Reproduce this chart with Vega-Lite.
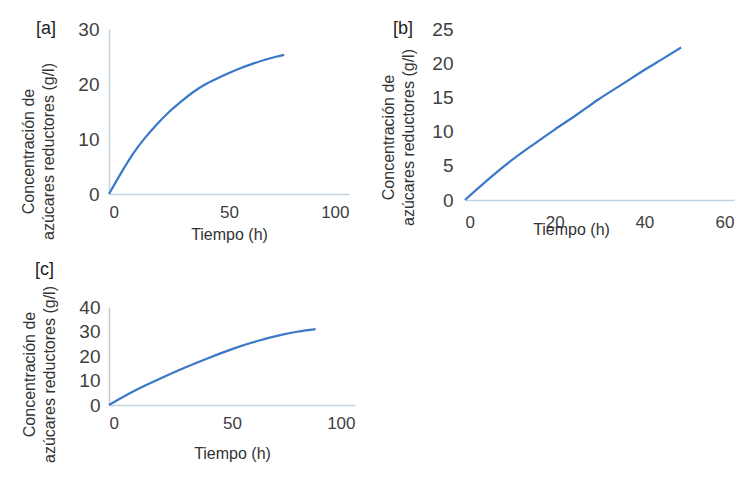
{
  "$schema": "https://vega.github.io/schema/vega-lite/v6.json",
  "background": "white",
  "padding": {"left": 20, "top": 20, "right": 5, "bottom": 5},
  "bounds": "flush",
  "columns": 2,
  "spacing": {"row": 107, "column": 110},
  "datasets": {
    "a": [
      {"t": 0, "c": 0}, {"t": 5, "c": 3.8}, {"t": 10, "c": 7.3}, {"t": 15, "c": 10.2},
      {"t": 20, "c": 12.7}, {"t": 25, "c": 14.9}, {"t": 30, "c": 16.8}, {"t": 35, "c": 18.5},
      {"t": 40, "c": 19.9}, {"t": 45, "c": 21.0}, {"t": 50, "c": 22.0}, {"t": 55, "c": 22.9},
      {"t": 60, "c": 23.7}, {"t": 65, "c": 24.4}, {"t": 70, "c": 25.0}, {"t": 73, "c": 25.3}
    ],
    "b": [
      {"t": 0, "c": 0}, {"t": 5, "c": 2.9}, {"t": 10, "c": 5.6}, {"t": 15, "c": 8.0},
      {"t": 20, "c": 10.3}, {"t": 25, "c": 12.5}, {"t": 30, "c": 14.8}, {"t": 35, "c": 16.9},
      {"t": 40, "c": 19.0}, {"t": 44, "c": 20.6}, {"t": 48.2, "c": 22.3}
    ],
    "c": [
      {"t": 0, "c": 0}, {"t": 10, "c": 5.6}, {"t": 20, "c": 10.4}, {"t": 30, "c": 14.9},
      {"t": 40, "c": 19.0}, {"t": 50, "c": 22.8}, {"t": 60, "c": 26.0}, {"t": 70, "c": 28.6},
      {"t": 77, "c": 30.0}, {"t": 84, "c": 31.0}
    ]
  },
  "config": {
    "font": "Liberation Sans",
    "view": {"stroke": null},
    "axis": {
      "labelFont": "Liberation Sans",
      "titleFont": "Liberation Sans",
      "labelFontSize": 17,
      "labelColor": "#404040",
      "titleFontSize": 16,
      "titleFontWeight": "normal",
      "titleColor": "#333333",
      "domainColor": "#c3d3df",
      "domainWidth": 1.5,
      "ticks": false,
      "grid": false,
      "titleLineHeight": 20
    },
    "axisY": {"labelFontSize": 19},
    "title": {"font": "Liberation Sans", "fontSize": 18, "fontWeight": "normal", "color": "#222222"},
    "line": {"color": "#3b78c8", "strokeWidth": 2.2}
  },
  "concat": [
    {
      "width": 240, "height": 165,
      "title": {"text": "[a]", "anchor": "start", "frame": "group", "dx": -73, "offset": -18},
      "data": {"name": "a"},
      "mark": {"type": "line", "interpolate": "monotone"},
      "encoding": {
        "x": {"field": "t", "type": "quantitative", "scale": {"domain": [0, 100]},
              "axis": {"values": [0, 50, 100], "title": "Tiempo (h)", "labelPadding": 10, "titlePadding": 6}},
        "y": {"field": "c", "type": "quantitative", "scale": {"domain": [0, 30]},
              "axis": {"values": [0, 10, 20, 30], "title": ["Concentración de", "azúcares reductores (g/l)"], "labelPadding": 10, "titlePadding": 21, "titleY": 122}}
      }
    },
    {
      "width": 269, "height": 171,
      "title": {"text": "[b]", "anchor": "start", "frame": "group", "dx": -72, "offset": -18},
      "data": {"name": "b"},
      "mark": {"type": "line", "interpolate": "monotone"},
      "encoding": {
        "x": {"field": "t", "type": "quantitative", "scale": {"domain": [0, 60]},
              "axis": {"values": [0, 20, 40, 60], "title": "Tiempo (h)", "labelPadding": 14, "titlePadding": -9, "titleX": 106}},
        "y": {"field": "c", "type": "quantitative", "scale": {"domain": [0, 25]},
              "axis": {"values": [0, 5, 10, 15, 20, 25], "title": ["Concentración de", "azúcares reductores (g/l)"], "labelPadding": 12, "titlePadding": 15, "domain": false, "titleY": 108}}
      }
    },
    {
      "width": 246, "height": 98,
      "title": {"text": "[c]", "anchor": "start", "frame": "group", "dx": -74, "offset": 7},
      "data": {"name": "c"},
      "mark": {"type": "line", "interpolate": "monotone"},
      "encoding": {
        "x": {"field": "t", "type": "quantitative", "scale": {"domain": [0, 100]},
              "axis": {"values": [0, 50, 100], "title": "Tiempo (h)", "labelPadding": 10, "titlePadding": 14}},
        "y": {"field": "c", "type": "quantitative", "scale": {"domain": [0, 40]},
              "axis": {"values": [0, 10, 20, 30, 40], "title": ["Concentración de", "azúcares reductores (g/l)"], "labelPadding": 9, "titlePadding": 21, "domainColor": "#c8c8c8", "titleY": 67}}
      }
    }
  ]
}
